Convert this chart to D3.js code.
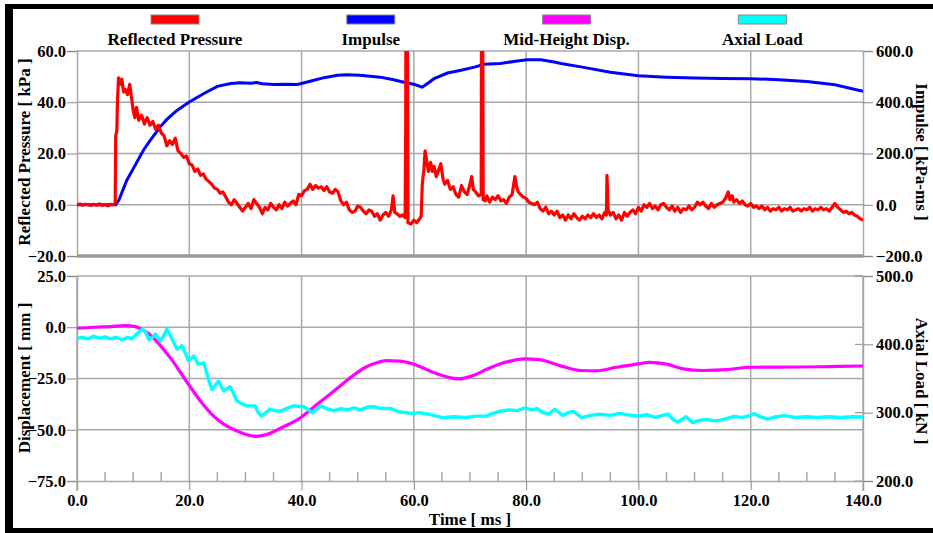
<!DOCTYPE html>
<html>
<head>
<meta charset="utf-8">
<script src="https://cdn.jsdelivr.net/npm/d3@7"></script>
<style>
  body { margin: 0; background: #fff; }
  svg text { font-family: "Liberation Serif", "Times New Roman", serif; font-weight: bold; }
</style>
</head>
<body>
<svg id="chart" width="933" height="533"></svg>
<script>
// legend
const seriesNames = ["Reflected Pressure", "Impulse", "Mid-Height Disp.", "Axial Load"];
const seriesColors = ["#ff0000", "#0000ff", "#ff00ff", "#00ffff"];

// tick values
const timeTicks = [0, 20, 40, 60, 80, 100, 120, 140];
const timeMinor = [5, 10, 15, 25, 30, 35, 45, 50, 55, 65, 70, 75, 85, 90, 95, 105, 110, 115, 125, 130, 135];
const pressureTicks = [-20, 0, 20, 40, 60];
const impulseTicks = [-200, 0, 200, 400, 600];
const dispTicks = [-75, -50, -25, 0, 25];
const loadTicks = [200, 300, 400, 500];

// [time ms, kPa]
const pressure = [
  [0,0],[0.5,0.3],[1,-0.2],[1.5,0.2],[2,0],[2.5,-0.3],[3,0.2],[3.5,-0.2],[4,0.3],[4.5,-0.3],[5,0.1],[5.5,-0.4],[6,0.2],[6.5,0],
  [6.8,0.5],[6.9,27],[7.1,29],[7.2,40],[7.4,49.5],[7.7,47],[8,49],[8.3,44],[8.6,45],[9,43],[9.4,47],[9.7,42],[10,37],[10.3,34],
  [10.6,38],[11,33],[11.5,35],[12,31.5],[12.5,34],[13,31],[13.5,32.5],[14,29.5],[14.5,31],[15,28],[15.5,27],[16,23],[16.5,25],
  [17,23.5],[17.5,26],[18,21],[18.5,20],[19,18.5],[19.5,19],[20,16],[20.5,15.5],[21,13],[21.5,14],[22,11.5],[22.5,12],[23,10],
  [23.5,9],[24,8],[24.5,6.5],[25,6],[25.5,4.5],[26,5],[26.5,3],[27,1],[27.5,0],[28,2],[28.5,0.5],[29,-1],[29.5,-2.5],[30,-1],
  [30.5,0.5],[31,-1.5],[31.5,2],[32,0.5],[32.5,-1],[33,-3.5],[33.5,-1],[34,-2],[34.5,0.5],[35,-1],[35.5,-2],[36,0],[36.5,-1.5],
  [37,1],[37.5,-0.5],[38,0.5],[38.5,1.5],[39,0],[39.5,4],[40,3.5],[40.5,5.5],[41,6],[41.5,8],[42,6],[42.5,7.5],[43,6.5],[43.5,7],
  [44,5.5],[44.5,7],[45,5],[45.5,4.5],[46,6],[46.5,5],[47,1.5],[47.5,0],[48,1],[48.5,-2],[49,-3],[49.5,-2.5],[50,-0.5],[50.5,-1],
  [51,-2.5],[51.5,-3.5],[52,-2],[52.5,-2.5],[53,-4.5],[53.5,-3.5],[54,-6],[54.5,-4],[55,-3],[55.5,-4.5],[56,-2],[56.3,3.5],
  [56.6,-3],[57,-3.5],[57.5,-4.5],[58,-4],[58.45,-5],[58.55,30],[58.6,85],[58.85,85],[58.95,-7],[59.5,-7.5],[60,-6],[60.5,-7],
  [61,-5.5],[61.3,-4.5],[61.5,8],[61.8,14],[62,21],[62.3,17],[62.6,13],[63,16.5],[63.3,13],[63.6,15],[64,11],[64.5,14],[64.8,16],
  [65.2,10],[65.5,8],[66,9.5],[66.5,6],[67,7],[67.5,4],[68,3],[68.5,7.5],[69,5],[69.5,4],[70,8],[70.3,11],[70.6,6],[71,5],
  [71.5,3.5],[72,4],[72.05,85],[72.25,85],[72.35,2],[72.7,1.5],[73,3.5],[73.5,1],[74,3],[74.5,2],[75,3.5],[75.5,1.5],[76,2],
  [76.5,0.5],[77,3],[77.5,4],[78,11],[78.3,7],[78.6,5],[79,4],[79.5,3],[80,2.5],[80.5,1],[81,0.5],[81.5,0],[82,1],[82.5,-1.5],
  [83,-2.5],[83.5,-1],[84,-3.5],[84.5,-2.5],[85,-4],[85.5,-2.5],[86,-5],[86.5,-4],[87,-6],[87.5,-4],[88,-5.5],[88.5,-3.5],[89,-5],
  [89.5,-6],[90,-4.5],[90.5,-5.5],[91,-4],[91.5,-5],[92,-3.5],[92.5,-5],[93,-4],[93.5,-5.5],[94,-3],[94.3,-4],[94.4,11.5],
  [94.6,-2],[95,-4],[95.5,-3],[96,-5.5],[96.5,-4],[97,-6],[97.5,-3],[98,-4.5],[98.5,-3],[99,-2],[99.5,-3.5],[100,-1],[100.5,-2.5],
  [101,0],[101.5,-1],[102,0.5],[102.5,-1.5],[103,-0.5],[103.5,-2],[104,0],[104.5,0.5],[105,-1],[105.5,-2],[106,-0.5],[106.5,-2.5],
  [107,-1],[107.5,-3],[108,-1.5],[108.5,-2],[109,-0.5],[109.5,-2],[110,-1],[110.5,1],[111,0],[111.5,1],[112,-0.5],[112.5,-1.5],
  [113,0.5],[113.5,-1],[114,0],[114.5,0.5],[115,1],[115.5,2.5],[116,5],[116.3,2],[116.7,3.5],[117,1],[117.5,2],[118,0.5],
  [118.5,1.5],[119,0],[119.5,-0.5],[120,0.5],[120.5,-1],[121,-0.5],[121.5,-1.5],[122,-0.5],[122.5,-2],[123,-1],[123.5,-2.5],
  [124,-1.5],[124.5,-2],[125,-1],[125.5,-2.5],[126,-1.5],[126.5,-2],[127,-1],[127.5,-2.5],[128,-2],[128.5,-1.5],[129,-2.5],
  [129.5,-1.5],[130,-2],[130.5,-1],[131,-2.5],[131.5,-1.5],[132,-2],[132.5,-1],[133,-2],[133.5,-1.5],[134,-2.5],[134.5,-1],
  [135,0.5],[135.5,-1],[136,-2],[136.5,-3],[137,-2.5],[137.5,-3.5],[138,-3],[138.5,-4],[139,-4.5],[139.5,-5.5],[140,-6]
];

// [time ms, kPa-ms]
const impulse = [
  [0,0],[6.9,0],[7.5,20],[8.85,95],[10,140],[11.8,212],[13,250],[14.8,303],[16,333],[17.8,368],[20,401],[22.6,434],[25,462],
  [27.4,473],[29,476],[31,474],[32,477],[33,472],[35,469],[37,470],[39.3,469],[41.7,483],[44,496],[46.4,505],[48,507],[50.4,505],
  [54,498],[56.4,488],[58.8,475],[60,470],[61.5,459],[62.5,474],[63.6,492],[66,514],[68.4,525],[70.8,537],[72.5,548],[75.4,551],
  [78.4,561],[80.2,566],[82.6,566],[85,557],[86.2,551],[90,537],[95,517],[100,503],[105,498],[110,495],[115,493],[120,492],
  [125,488],[130,481],[135,468],[140,443]
];

// [time ms, mm]
const displacement = [
  [0,-0.5],[3,0],[6,0.3],[8.6,0.8],[10.4,0.3],[11.5,-1],[12.8,-3.2],[14.6,-8.1],[17,-16.3],[19.8,-27.6],[22.4,-37.4],[25.3,-45.6],
  [28.3,-50.4],[30,-52.2],[31.9,-53.2],[33.6,-52.5],[36.6,-48.8],[39.5,-44.7],[42.5,-38.2],[45.5,-31.7],[48.4,-25.2],[51.4,-19.5],
  [53.5,-17.2],[55,-16.3],[57.4,-16.5],[59.9,-17.9],[63.4,-22],[66,-24.3],[67.9,-25.2],[70.5,-23.6],[73,-20.5],[75.3,-17.9],
  [78,-16],[79.8,-15.4],[82.4,-15.8],[86,-18.7],[89.6,-21.1],[92.5,-21.3],[96.1,-19.5],[100,-17.9],[102,-17.1],[105,-18],
  [108,-20.3],[111.5,-21.1],[115.7,-20.7],[119.9,-19.5],[128.8,-19.4],[134,-19.2],[140,-18.9]
];

// [time ms, kN]
const axialLoad = [
  [0,409],[1,410],[2,408],[2.9,412],[4,409],[5,411],[5.9,408],[7,410],[8,407],[9,410],[9.8,408],[10.5,414],[11.6,422],[12.2,418],
  [12.8,407],[13.4,410],[14,415],[14.8,405],[15.4,412],[16,422],[16.8,410],[17.8,393],[18.7,398],[19.9,376],[20.8,383],[21.6,371],
  [22.6,373],[23.3,352],[24,334],[24.6,340],[25.2,346],[26.1,332],[27.3,338],[28.5,317],[29.4,313],[30.3,310],[31.7,310],[32.3,300],
  [32.9,295],[33.6,300],[34.4,305],[35.2,303],[36.2,302],[37.3,306],[38.6,310],[39.5,309],[40.4,309],[41.9,300],[43.4,310],
  [44.5,306],[45.8,303],[47,306],[48.2,304],[49.4,307],[50.5,304],[51.7,308],[52.9,309],[54.2,306],[55.9,306],[57.5,301],
  [59.5,299],[61,300],[62.8,297.6],[64,295],[65.2,292.6],[67,294],[69.4,293],[71,295],[73,295],[74,299],[75.3,302],[77,304],
  [78.5,303],[79.8,307],[81,304],[82,306],[83,300],[84,298],[85.1,305],[86.6,295.8],[87.5,300],[88.4,302],[89.9,292.6],[91.5,296],
  [93.1,297.6],[95,296],[96.7,299],[98,297],[100,295],[101.5,297],[103,293],[104.3,296],[105.3,298],[106.2,290],[107,286.3],
  [108.5,294],[109.6,285.4],[111,289],[112.3,290],[113.5,288],[114.6,289],[116,292],[117,294.6],[118.5,293],[120,296],
  [120.6,298.5],[121.8,294],[123,290.7],[124.5,294],[126,295.6],[128,293],[130,294],[131.9,293],[134,294],[136,293],[138,294],
  [140,293.7]
];

const svg = d3.select("#chart");
const gridColor = "#a8a8a8";
const fmt = d3.format(".1f");
const tickFont = "16.5px";
const titleFont = "17px";

svg.append("rect").attr("width", 933).attr("height", 533).attr("fill", "#fff");

// black frame
svg.append("rect").attr("x", 6).attr("y", 4).attr("width", 927).attr("height", 5).attr("fill", "#000");
svg.append("rect").attr("x", 5).attr("y", 4).attr("width", 8).attr("height", 529).attr("fill", "#000");
svg.append("rect").attr("x", 6).attr("y", 528).attr("width", 927).attr("height", 5).attr("fill", "#000");

const x = d3.scaleLinear().domain([0, 140]).range([77, 863]);
const yP = d3.scaleLinear().domain([-20, 60]).range([256, 51]);
const yI = d3.scaleLinear().domain([-200, 600]).range([256, 51]);
const yD = d3.scaleLinear().domain([-75, 25]).range([481, 276]);
const yA = d3.scaleLinear().domain([200, 500]).range([481, 276]);

const defs = svg.append("defs");
defs.append("clipPath").attr("id", "clipTop").append("rect")
  .attr("x", 77).attr("y", 51).attr("width", 786).attr("height", 205);
defs.append("clipPath").attr("id", "clipBot").append("rect")
  .attr("x", 77).attr("y", 276).attr("width", 786).attr("height", 205);

// legend
const legend = svg.append("g");
seriesNames.forEach((name, i) => {
  const cx = 175 + i * 195.8;
  legend.append("rect")
    .attr("x", cx - 24).attr("y", 15).attr("width", 48).attr("height", 9)
    .attr("fill", seriesColors[i]).attr("stroke", "#888").attr("stroke-width", 1);
  legend.append("text")
    .attr("x", cx).attr("y", 44.5).attr("text-anchor", "middle")
    .style("font-size", titleFont).text(name);
});

function styleAxis(g) {
  g.selectAll(".domain").attr("stroke", gridColor).attr("stroke-width", 1.5);
  g.selectAll(".tick line").attr("stroke", "#888").attr("stroke-width", 1);
  g.selectAll(".tick text").style("font-size", tickFont).style("font-family", "Liberation Serif, serif")
    .style("font-weight", "bold").attr("fill", "#000");
}

// ---------- top panel ----------
const topPanel = svg.append("g");
// vertical gridlines
topPanel.selectAll("line.vg").data(timeTicks.slice(1, -1)).join("line")
  .attr("x1", d => x(d)).attr("x2", d => x(d)).attr("y1", yP(60)).attr("y2", yP(-20))
  .attr("stroke", gridColor).attr("stroke-width", 1.5);
topPanel.selectAll("line.hg").data(pressureTicks.slice(1)).join("line")
  .attr("x1", x(0)).attr("x2", x(140)).attr("y1", d => yP(d)).attr("y2", d => yP(d))
  .attr("stroke", gridColor).attr("stroke-width", 1.5);

topPanel.append("g").attr("transform", `translate(${x(0)},0)`)
  .call(d3.axisLeft(yP).tickValues(pressureTicks).tickSize(10).tickPadding(1).tickFormat(fmt))
  .call(styleAxis);
topPanel.append("g").attr("transform", `translate(${x(140)},0)`)
  .call(d3.axisRight(yI).tickValues(impulseTicks).tickSize(10).tickPadding(3).tickFormat(fmt))
  .call(styleAxis);

// thick base of the top panel
topPanel.append("line").attr("x1", x(0)).attr("x2", x(140)).attr("y1", yP(-20)).attr("y2", yP(-20))
  .attr("stroke", "#999").attr("stroke-width", 3.5);

const topLines = topPanel.append("g").attr("clip-path", "url(#clipTop)");
topLines.append("path").datum(impulse)
  .attr("fill", "none").attr("stroke", seriesColors[1]).attr("stroke-width", 3)
  .attr("d", d3.line().x(d => x(d[0])).y(d => yI(d[1])));
topLines.append("path").datum(pressure)
  .attr("fill", "none").attr("stroke", seriesColors[0]).attr("stroke-width", 3.2).attr("stroke-linejoin", "round")
  .attr("d", d3.line().x(d => x(d[0])).y(d => yP(d[1])));

// ---------- bottom panel ----------
const botPanel = svg.append("g");
botPanel.selectAll("line.vg").data(timeTicks.slice(1, -1)).join("line")
  .attr("x1", d => x(d)).attr("x2", d => x(d)).attr("y1", yD(25)).attr("y2", yD(-75))
  .attr("stroke", gridColor).attr("stroke-width", 1.5);
botPanel.selectAll("line.hg").data(dispTicks.slice(1)).join("line")
  .attr("x1", x(0)).attr("x2", x(140)).attr("y1", d => yD(d)).attr("y2", d => yD(d))
  .attr("stroke", gridColor).attr("stroke-width", 1.5);
// minor time ticks (inward)
botPanel.selectAll("line.mt").data(timeMinor).join("line")
  .attr("x1", d => x(d)).attr("x2", d => x(d)).attr("y1", yD(-75) - 9).attr("y2", yD(-75))
  .attr("stroke", gridColor).attr("stroke-width", 1.5);
// inner load ticks
botPanel.selectAll("line.lt").data(loadTicks).join("line")
  .attr("x1", x(140) - 8).attr("x2", x(140)).attr("y1", d => yA(d)).attr("y2", d => yA(d))
  .attr("stroke", "#888").attr("stroke-width", 1);

botPanel.append("g").attr("transform", `translate(${x(0)},0)`)
  .call(d3.axisLeft(yD).tickValues(dispTicks).tickSize(10).tickPadding(1).tickFormat(fmt))
  .call(styleAxis);
botPanel.append("g").attr("transform", `translate(${x(140)},0)`)
  .call(d3.axisRight(yA).tickValues(loadTicks).tickSize(10).tickPadding(3).tickFormat(fmt))
  .call(styleAxis);
botPanel.append("g").attr("transform", `translate(0,${yD(-75)})`)
  .call(d3.axisBottom(x).tickValues(timeTicks).tickSize(9).tickPadding(4).tickFormat(fmt))
  .call(styleAxis);
// axes extend below the base line
[0, 140].forEach(t => {
  botPanel.append("line").attr("x1", x(t)).attr("x2", x(t)).attr("y1", yD(25)).attr("y2", yD(-75) + 10)
    .attr("stroke", gridColor).attr("stroke-width", 1.5);
});

const botLines = botPanel.append("g").attr("clip-path", "url(#clipBot)");
botLines.append("path").datum(displacement)
  .attr("fill", "none").attr("stroke", seriesColors[2]).attr("stroke-width", 3.2)
  .attr("d", d3.line().curve(d3.curveMonotoneX).x(d => x(d[0])).y(d => yD(d[1])));
botLines.append("path").datum(axialLoad)
  .attr("fill", "none").attr("stroke", seriesColors[3]).attr("stroke-width", 3.4).attr("stroke-linejoin", "round")
  .attr("d", d3.line().x(d => x(d[0])).y(d => yA(d[1])));

// ---------- axis titles ----------
function vTitle(txt, tx, ty, rot) {
  svg.append("text").attr("transform", `translate(${tx},${ty}) rotate(${rot})`)
    .attr("text-anchor", "middle").style("font-size", titleFont).text(txt);
}
vTitle("Reflected Pressure [ kPa ]", 30, 152, -90);
vTitle("Displacement [ mm ]", 30, 378, -90);
vTitle("Impulse [ kPa-ms ]", 916, 152, 90);
vTitle("Axial Load [ kN ]", 916, 381, 90);

svg.append("text").attr("x", 470).attr("y", 525).attr("text-anchor", "middle")
  .style("font-size", titleFont).text("Time [ ms ]");
</script>
</body>
</html>
